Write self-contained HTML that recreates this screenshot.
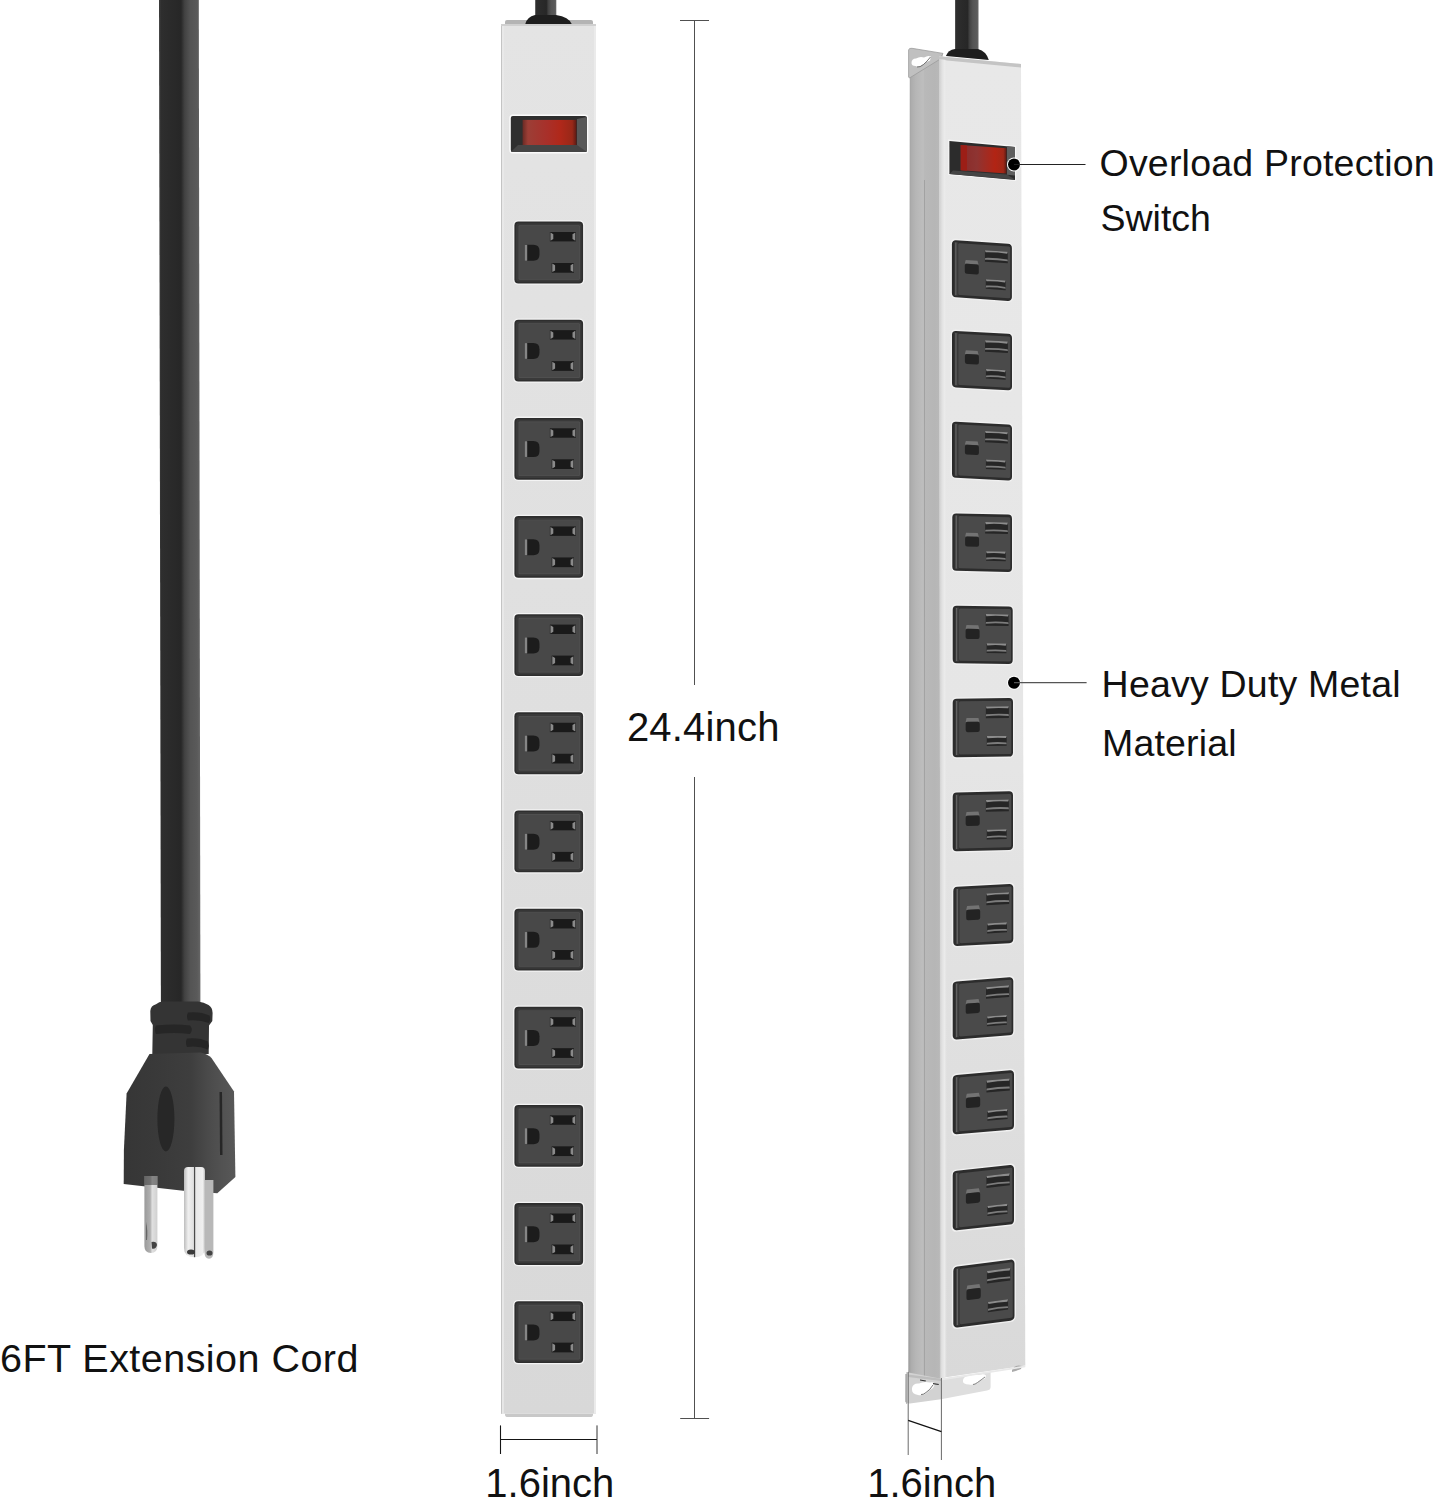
<!DOCTYPE html>
<html><head><meta charset="utf-8"><style>
html,body{margin:0;padding:0;background:#fff;width:1435px;height:1500px;overflow:hidden}
svg{display:block}
text{font-family:"Liberation Sans",sans-serif}
</style></head><body>
<svg width="1435" height="1500" viewBox="0 0 1435 1500">
<rect width="1435" height="1500" fill="#fff"/>

<defs>
  <linearGradient id="cordG" x1="0" x2="1" y1="0" y2="0">
    <stop offset="0" stop-color="#3c3c3c"/>
    <stop offset="0.06" stop-color="#2e2e2e"/>
    <stop offset="0.3" stop-color="#2a2a2a"/>
    <stop offset="0.53" stop-color="#272727"/>
    <stop offset="0.62" stop-color="#424242"/>
    <stop offset="0.76" stop-color="#545454"/>
    <stop offset="0.92" stop-color="#5a5a5a"/>
    <stop offset="1" stop-color="#666"/>
  </linearGradient>
  <linearGradient id="stripL" x1="0" x2="0" y1="0" y2="1">
    <stop offset="0" stop-color="#e4e4e4"/>
    <stop offset="0.5" stop-color="#dfdfdf"/>
    <stop offset="1" stop-color="#d8d8d8"/>
  </linearGradient>
  <linearGradient id="redG" x1="0" x2="1" y1="0" y2="0">
    <stop offset="0" stop-color="#6a2a24"/>
    <stop offset="0.1" stop-color="#9c3e36"/>
    <stop offset="0.45" stop-color="#a8302a"/>
    <stop offset="0.7" stop-color="#b0281a"/>
    <stop offset="0.92" stop-color="#982818"/>
    <stop offset="1" stop-color="#5a1a14"/>
  </linearGradient>
  <linearGradient id="redG2" x1="0" x2="1" y1="0" y2="0">
    <stop offset="0" stop-color="#8a2a28"/>
    <stop offset="0.35" stop-color="#8e3432"/>
    <stop offset="0.75" stop-color="#b22414"/>
    <stop offset="0.93" stop-color="#a02818"/>
    <stop offset="1" stop-color="#5a1a14"/>
  </linearGradient>
  <linearGradient id="plugG" x1="0" x2="1" y1="0" y2="0">
    <stop offset="0" stop-color="#363636"/>
    <stop offset="0.35" stop-color="#3a3a3a"/>
    <stop offset="0.6" stop-color="#3e3e3e"/>
    <stop offset="0.78" stop-color="#4c4c4c"/>
    <stop offset="0.88" stop-color="#525252"/>
    <stop offset="1" stop-color="#585858"/>
  </linearGradient>
  <linearGradient id="prongG" x1="0" x2="1" y1="0" y2="0">
    <stop offset="0" stop-color="#9a9a9a"/>
    <stop offset="0.45" stop-color="#b0b0b0"/>
    <stop offset="0.6" stop-color="#e0e0e0"/>
    <stop offset="1" stop-color="#d0d0d0"/>
  </linearGradient>
  <linearGradient id="prongM" x1="0" x2="1" y1="0" y2="0">
    <stop offset="0" stop-color="#bdbdbd"/>
    <stop offset="0.2" stop-color="#efefef"/>
    <stop offset="0.45" stop-color="#e0e0e0"/>
    <stop offset="0.5" stop-color="#4a4a4a"/>
    <stop offset="0.56" stop-color="#e8e8e8"/>
    <stop offset="0.9" stop-color="#f0f0f0"/>
    <stop offset="1" stop-color="#bbb"/>
  </linearGradient>
  <linearGradient id="sideR" gradientUnits="userSpaceOnUse" x1="909" x2="943" y1="0" y2="0">
    <stop offset="0" stop-color="#9e9e9e"/>
    <stop offset="0.06" stop-color="#acacac"/>
    <stop offset="0.2" stop-color="#b6b6b6"/>
    <stop offset="0.42" stop-color="#bebebe"/>
    <stop offset="0.45" stop-color="#b9b9b9"/>
    <stop offset="0.75" stop-color="#b6b6b6"/>
    <stop offset="0.88" stop-color="#b8b8b8"/>
    <stop offset="1" stop-color="#cacaca"/>
  </linearGradient>
  <linearGradient id="frontR" x1="0" x2="0" y1="0" y2="1">
    <stop offset="0" stop-color="#e8e8e8"/>
    <stop offset="0.5" stop-color="#e6e6e6"/>
    <stop offset="1" stop-color="#d9d9d9"/>
  </linearGradient>
  <linearGradient id="edgeR" x1="0" x2="1" y1="0" y2="0">
    <stop offset="0" stop-color="#cdcdcd"/>
    <stop offset="0.4" stop-color="#e2e2e2"/>
    <stop offset="0.7" stop-color="#ebebeb"/>
    <stop offset="1" stop-color="#e6e6e6" stop-opacity="0"/>
  </linearGradient>
  <g id="outL">
    <rect x="-1.3" y="-1.3" width="71.3" height="64.4" rx="5" fill="#f4f4f4"/>
    <rect x="0" y="0" width="68.7" height="61.8" rx="4" fill="#2e2e2e"/>
    <rect x="1.6" y="1.6" width="65.5" height="58.6" rx="3" fill="#3a3a3a"/>
    <rect x="4.2" y="3.6" width="61.3" height="54.6" rx="1" fill="#525252"/>
    <rect x="4.9" y="4.3" width="59.9" height="53.2" rx="0.8" fill="#484848"/>
    <path d="M12.6,23.2 H19 Q25.1,23.2 25.1,29.5 V33 Q25.1,39.2 19,39.2 H12.6 Z" fill="#1c1c1c"/>
    <rect x="10.5" y="23.4" width="2.3" height="15.6" fill="#858585"/>
    <rect x="35.5" y="10.4" width="26" height="9.4" fill="#1a1a1a"/>
    <polygon points="36.1,11 38.9,12.7 38.9,17.5 36.1,19.2" fill="#8a8a8a"/>
    <polygon points="60.9,11 58.1,12.7 58.1,17.5 60.9,19.2" fill="#8a8a8a"/>
    <rect x="37.3" y="41.4" width="22.3" height="9.7" fill="#1a1a1a"/>
    <polygon points="37.9,42 40.7,43.7 40.7,48.8 37.9,50.5" fill="#8a8a8a"/>
    <polygon points="59,42 56.2,43.7 56.2,48.8 59,50.5" fill="#8a8a8a"/>
  </g>
  <g id="outR">
    <rect x="-1.4" y="-1.4" width="62.8" height="59.8" rx="5" fill="#f0f0f0"/>
    <rect x="0" y="0" width="60" height="57" rx="4" fill="#2c2c2c"/>
    <rect x="2.4" y="1.8" width="4" height="53.4" fill="#3a3a3a"/>
    <rect x="3.4" y="2.2" width="1.1" height="52.6" fill="#6a6a6a"/>
    <rect x="6.3" y="2.6" width="52" height="51.8" rx="1.5" fill="#4a4a4a"/>
    <path d="M13.8,19 L25.6,19 L26.6,22.7 L12.9,22.7 Z" fill="#737373"/>
    <rect x="12.9" y="22.7" width="14" height="10" rx="2" fill="#232323"/>
    <rect x="33" y="7.9" width="22.9" height="11.5" fill="#262626"/>
    <path d="M33,7.9 H55.9 L55.2,10 Q44.5,9 33.7,10 Z" fill="#8c8c8c"/>
    <path d="M33.3,15.6 Q44.5,14.6 55.6,15.6 L55.9,17.4 Q44.5,16.4 33,17.4 Z" fill="#7c7c7c"/>
    <rect x="33.9" y="36.8" width="19.8" height="9.6" fill="#262626"/>
    <path d="M33.9,36.8 H53.7 L53,38.9 Q43.8,37.9 34.6,38.9 Z" fill="#8c8c8c"/>
    <path d="M34.2,43.2 Q43.8,42.2 53.4,43.2 L53.7,45 Q43.8,44 33.9,45 Z" fill="#7c7c7c"/>
  </g>
</defs>

<polygon points="159,0 198.8,0 200.4,1008 160.9,1008" fill="url(#cordG)"/>
<path d="M150.5,1021 L150.3,1011 Q150.8,1005.5 156,1004.2 Q159,1002 163,1001.6 L198,1001.6 Q204,1002.5 208.5,1005 Q212.6,1007.5 212.6,1013 L212.3,1021 L209,1025.5 L208.7,1054 L152.3,1054 L152.8,1025 Z" fill="#343434"/>
<path d="M188,1012.5 Q200,1011 209.5,1015.5 Q211,1019 209,1023 Q200,1019.5 188,1020.5 Q186,1016.5 188,1012.5 Z" fill="#252525"/>
<path d="M156,1025.5 Q175,1023.5 190,1025.5 Q193.5,1029.5 190,1034 Q175,1032 156,1034 Q154,1029.5 156,1025.5 Z" fill="#262626"/>
<path d="M187,1038.5 Q199,1037 208,1041.5 Q209.5,1045.5 208,1049.5 Q199,1045.5 187,1047 Q185,1042.5 187,1038.5 Z" fill="#252525"/>
<path d="M149.5,1054 L200.7,1052.4 Q208,1054 211.5,1058 L234,1091.5 L235.4,1177 L217.3,1193.2 L183.2,1190.7 L123.7,1183.9 L123.9,1150 L126.6,1093.4 Z" fill="url(#plugG)"/>
<ellipse cx="165.9" cy="1119" rx="8.5" ry="32.5" fill="#272727"/>
<path d="M219.5,1092 L222,1092 L222.5,1155 L220,1155 Z" fill="#262626"/>
<path d="M144.4,1176 L157.4,1176 L157.4,1246 Q157.4,1253 151,1253 Q144.4,1253 144.4,1246 Z" fill="url(#prongG)"/>
<path d="M204.5,1180 L213.4,1180 L213.4,1252 Q213.4,1258.7 209,1258.7 Q204.5,1258.7 204.5,1252 Z" fill="#b8b8b8"/>
<path d="M184,1171 Q184,1167 188,1167 L201,1167 Q205,1167 205,1171 L205,1248 Q205,1257.3 194.5,1257.3 Q184,1257.3 184,1248 Z" fill="url(#prongM)"/>
<path d="M151.5,1242 Q156.5,1241 157,1245 Q156,1249.5 152,1248.5 Z" fill="#444"/>
<path d="M146,1222 Q148,1230 147,1240 L146,1240 Z" fill="#666"/>
<ellipse cx="191" cy="1252" rx="4" ry="2.6" fill="#3a3a3a"/>
<ellipse cx="209.5" cy="1253" rx="3" ry="2.6" fill="#444"/>
<rect x="144.4" y="1176" width="13" height="9" fill="#3a3a3a" opacity="0.55"/>
<rect x="535.2" y="0" width="21.1" height="20" fill="url(#cordG)"/>
<path d="M505,24 L505,22 Q505,20 507,20 L591,20 Q593,20 593,22 L593,24 Z" fill="#b4b4b4"/>
<path d="M525.3,24 Q527,17 535,15 L556,15 Q569,17 571.7,24 Z" fill="#1e1e1e"/>
<rect x="501" y="24" width="95" height="1389.7" fill="url(#stripL)"/>
<rect x="501" y="24" width="1.2" height="1389.7" fill="#c4c4c4"/>
<rect x="502.2" y="24" width="1.5" height="1389.7" fill="#ececec"/>
<rect x="594" y="24" width="2" height="1389.7" fill="#ebebeb"/>
<rect x="501" y="24" width="95" height="2" fill="#d0d0d0"/>
<path d="M505,1413.7 L593,1413.7 L593,1414.5 Q593,1417.1 590,1417.1 L508,1417.1 Q505,1417.1 505,1414.5 Z" fill="#c8c8c8"/>
<rect x="509.3" y="114.5" width="79" height="39" rx="3.5" fill="#fbfbfb"/>
<rect x="510.8" y="116" width="76.1" height="35.9" rx="2" fill="#2e2e2e"/>
<path d="M518,145 L579,145 L586.9,151.9 L510.8,151.9 Z" fill="#454545"/>
<path d="M577,119 L586.9,117 L586.9,151.9 L577,145 Z" fill="#585858"/>
<rect x="522.6" y="119.9" width="53.9" height="25.1" fill="url(#redG)"/>
<use href="#outL" transform="translate(514.4,221.60)"/>
<use href="#outL" transform="translate(514.4,319.75)"/>
<use href="#outL" transform="translate(514.4,417.90)"/>
<use href="#outL" transform="translate(514.4,516.05)"/>
<use href="#outL" transform="translate(514.4,614.20)"/>
<use href="#outL" transform="translate(514.4,712.35)"/>
<use href="#outL" transform="translate(514.4,810.50)"/>
<use href="#outL" transform="translate(514.4,908.65)"/>
<use href="#outL" transform="translate(514.4,1006.80)"/>
<use href="#outL" transform="translate(514.4,1104.95)"/>
<use href="#outL" transform="translate(514.4,1203.10)"/>
<use href="#outL" transform="translate(514.4,1301.25)"/>
<g stroke="#505050" stroke-width="1" fill="none">
<line x1="694.5" y1="20.5" x2="694.5" y2="685"/>
<line x1="694.5" y1="777" x2="694.5" y2="1418.5"/>
<line x1="680" y1="20.5" x2="709" y2="20.5"/>
<line x1="680.2" y1="1418.5" x2="709.1" y2="1418.5"/>
</g>
<g stroke="#151515" stroke-width="1.1" fill="none">
<line x1="500.5" y1="1439.5" x2="597" y2="1439.5"/>
<line x1="500.5" y1="1425.4" x2="500.5" y2="1454"/>
</g>
<line x1="597" y1="1425.4" x2="597" y2="1454" stroke="#333" stroke-width="1"/>
<rect x="955.1" y="0" width="23.4" height="52" fill="url(#cordG)"/>
<path d="M909.8,60 L942.9,53.4 L940.8,1378 L906,1404 L908.3,1370 Z" fill="url(#sideR)"/>
<line x1="924.5" y1="180" x2="924.4" y2="1376" stroke="#a2a2a2" stroke-width="1"/>
<path d="M908.6,50 Q909,47.8 912,48.3 L943,53.4 L939.5,59.5 L909.5,78 L908.6,77 Z" fill="#c0c0c0" stroke="#9c9c9c" stroke-width="0.8"/>
<path d="M911.5,63 Q911.5,58.5 916,58.5 Q920,56 924,57.5 Q928,55 931,56.5 L930,60.5 Q926,61.5 923,64.5 Q919,67.5 915.5,66 Q911.5,66 911.5,63 Z" fill="#fff"/>
<path d="M930.5,57 Q927,61.5 923.5,64.5 Q920,67.5 917,67" stroke="#555" stroke-width="0.8" fill="none"/>
<path d="M939,56.3 L1021,64.1 L1025.3,1365.6 L940.8,1378 Z" fill="url(#frontR)"/>
<path d="M939,56.3 L1021,64.1 L1021,67.5 L939,59.8 Z" fill="#c4c4c4"/>
<polygon points="939,59 947,60 947,1377 940.8,1378" fill="url(#edgeR)"/>
<path d="M945.9,56 Q948,50 955,49 L978,49 Q986,51 988.8,60 Z" fill="#1e1e1e"/>
<path d="M906,1372 L941,1378.7 L941,1399.2 L910,1403.5 Q905.4,1404 905.4,1400 Z" fill="#d2d2d2"/>
<path d="M941,1378.7 L990.6,1371.5 L990.6,1387 Q990.6,1390 987,1390.5 L941,1399.2 Z" fill="#dedede"/>
<path d="M905.4,1374 L906.8,1374 L906.8,1403 L905.4,1402 Z" fill="#a0a0a0"/>
<path d="M908,1374.5 L941,1378.7 L941,1381 L908,1377 Z" fill="#bdbdbd"/>
<path d="M912,1388 Q913,1383 919,1383.5 Q924,1381 930,1382.5 Q934,1381.5 935,1384 L933,1388 Q929,1390 926,1393.5 Q922,1396 918,1395 Q912,1394 912,1390 Z" fill="#fff"/>
<path d="M933,1385 Q930,1390 926,1392.5 Q923,1395 921,1394.5" stroke="#555" stroke-width="0.8" fill="none"/>
<path d="M920,1379.5 L926,1380.5 L925.5,1381.5 L920,1380.6 Z" fill="#333"/>
<path d="M933,1383 L939,1384 L938.5,1385 L933,1384.2 Z" fill="#333"/>
<path d="M963,1380 Q964,1376 969,1376 Q974,1374 979,1375 Q984,1373.5 986,1375.5 L985,1378.5 Q980,1380 977,1383 Q973,1385.5 969,1384.5 Q963,1384 963,1381.5 Z" fill="#fff"/>
<path d="M985,1377 Q981,1380 977.5,1382.5 Q975,1384.5 973,1384.5" stroke="#666" stroke-width="0.8" fill="none"/>
<path d="M1012,1370 Q1015,1364 1022,1366 L1021,1369 Q1016,1371 1012,1372 Z" fill="#aaa"/>
<path d="M941,1378.7 L1025.3,1365.6 L1025.3,1367.3 L941,1380.5 Z" fill="#e9e9e9"/>
<polygon points="948.2,139.6 1016.2,145.72 1016.2,181.12 948.2,175.0" fill="#f6f6f6"/>
<polygon points="949.4,141 1015.0,146.904 1015.0,179.904 949.4,174" fill="#2c2c2c"/>
<polygon points="953,170.5 1007,174.6 1015,179.6 949.4,173.9" fill="#454545"/>
<polygon points="1007,146.2 1015,146.92 1015,175.42 1007,174.7" fill="#5e5e5e"/>
<polygon points="960.7,145 1006.5,148.206 1006.5,173.506 960.7,170.3" fill="url(#redG2)"/>
<polygon points="960.7,145 967.0,145.441 967.0,170.741 960.7,170.3" fill="#9c1e16"/>
<use href="#outR" transform="matrix(1.0000,0.0680,0,1.0018,951.90,240.00)"/>
<use href="#outR" transform="matrix(1.0000,0.0550,0,0.9912,952.00,330.70)"/>
<use href="#outR" transform="matrix(1.0000,0.0500,0,0.9825,952.00,421.60)"/>
<use href="#outR" transform="matrix(0.9950,0.0229,0,1.0070,952.30,513.30)"/>
<use href="#outR" transform="matrix(1.0000,0.0130,0,1.0105,952.70,605.70)"/>
<use href="#outR" transform="matrix(1.0050,-0.0121,0,1.0281,952.70,698.70)"/>
<use href="#outR" transform="matrix(1.0050,-0.0251,0,1.0281,952.70,792.70)"/>
<use href="#outR" transform="matrix(1.0000,-0.0550,0,1.0404,953.30,887.00)"/>
<use href="#outR" transform="matrix(1.0100,-0.0788,0,1.0175,952.70,981.70)"/>
<use href="#outR" transform="matrix(1.0217,-0.0889,0,1.0421,952.70,1075.30)"/>
<use href="#outR" transform="matrix(1.0217,-0.1103,0,1.0421,952.70,1171.30)"/>
<use href="#outR" transform="matrix(1.0200,-0.1316,0,1.0702,953.30,1267.00)"/>
<circle cx="1014" cy="164.5" r="7" fill="#fff"/>
<circle cx="1014" cy="164.5" r="6" fill="#000"/>
<line x1="1014" y1="164.5" x2="1085.5" y2="164.5" stroke="#222" stroke-width="1.1"/>
<circle cx="1014" cy="682.8" r="7" fill="#fff"/>
<circle cx="1014" cy="682.8" r="6" fill="#000"/>
<line x1="1014" y1="682.6" x2="1086.6" y2="682.6" stroke="#555" stroke-width="1.1"/>
<g stroke="#6a6a6a" stroke-width="1" fill="none">
<line x1="908.2" y1="1372" x2="908.2" y2="1455"/>
<line x1="941.4" y1="1378" x2="941.4" y2="1460"/>
</g>
<line x1="908.2" y1="1420.4" x2="941.4" y2="1431.6" stroke="#111" stroke-width="1.2"/>
<text x="0" y="1371.5" font-size="39.5" textLength="358.4" font-family="Liberation Sans, sans-serif" fill="#111" lengthAdjust="spacing">6FT Extension Cord</text>
<text x="626.9" y="741.1" font-size="40" textLength="152.6" font-family="Liberation Sans, sans-serif" fill="#111" lengthAdjust="spacing">24.4inch</text>
<text x="485.3" y="1496.5" font-size="40" font-family="Liberation Sans, sans-serif" fill="#111" lengthAdjust="spacing">1.6inch</text>
<text x="867.2" y="1496.5" font-size="40" font-family="Liberation Sans, sans-serif" fill="#111" lengthAdjust="spacing">1.6inch</text>
<text x="1099.5" y="176" font-size="37.5" textLength="335.2" font-family="Liberation Sans, sans-serif" fill="#111" lengthAdjust="spacing">Overload Protection</text>
<text x="1100.5" y="230.7" font-size="37.5" font-family="Liberation Sans, sans-serif" fill="#111" lengthAdjust="spacing">Switch</text>
<text x="1101.6" y="696.8" font-size="37.5" textLength="299" font-family="Liberation Sans, sans-serif" fill="#111" lengthAdjust="spacing">Heavy Duty Metal</text>
<text x="1102" y="755.7" font-size="37.5" textLength="134.5" font-family="Liberation Sans, sans-serif" fill="#111" lengthAdjust="spacing">Material</text>
</svg>
</body></html>
